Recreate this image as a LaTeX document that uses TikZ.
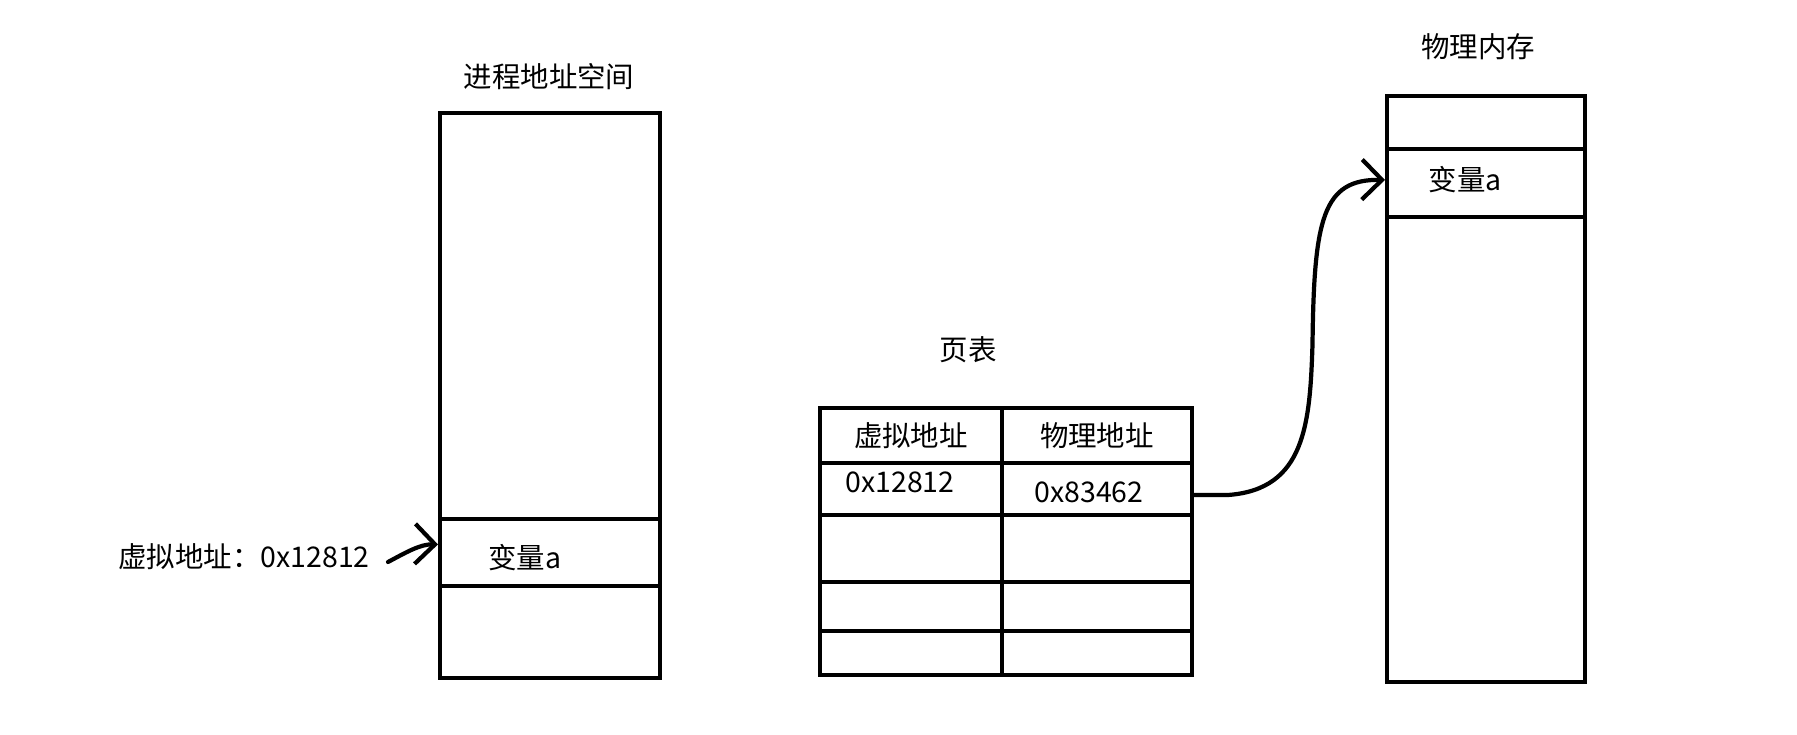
\documentclass[tikz,border=0pt]{standalone}
\usepackage{fontspec}
\setmainfont{Noto Sans CJK SC}
\usetikzlibrary{arrows.meta,positioning}
\tikzset{
  rotulo/.style={font=\fontsize{16.2}{19}\selectfont},
  celda/.style={rotulo,draw,line width=2.2pt,inner sep=0pt,anchor=north west},
  flecha/.style={line width=2.4pt,line cap=round,line join=round,
    -{Straight Barb[length=4mm,width=8mm,line width=2.4pt]}}
}

\begin{document}
\begin{tikzpicture}
\useasboundingbox (0,0) rectangle (35.94,14.68);
% espacio de direcciones del proceso
\node[rotulo] (tproc) at (10.98,13.14) {进程地址空间};
\node[celda,minimum width=4.4cm,minimum height=8.12cm] (proc1) at (8.76,12.46) {};
\node[celda,minimum width=4.4cm,minimum height=1.34cm] (varproc) at (8.76,4.34) {};
\node[celda,minimum width=4.4cm,minimum height=1.84cm] (proc3) at (8.76,3.00) {};
\node[rotulo] at (10.5,3.52) {变量a};
\node[rotulo] (etiq) at (4.88,3.54) {虚拟地址：0x12812};
\coordinate (inicio) at (7.76,3.44);
\draw[flecha] (inicio) .. controls (8.1,3.62) and (8.4,3.8) .. ([yshift=1.6mm]varproc.west);
% tabla de paginas
\node[rotulo] (ttabla) at (19.36,7.68) {页表};
\node[celda,minimum width=3.64cm,minimum height=1.1cm] (t1a) at (16.36,6.56) {虚拟地址};
\node[celda,minimum width=3.8cm,minimum height=1.1cm] (t1b) at (20.0,6.56) {物理地址};
\node[celda,minimum width=3.64cm,minimum height=1.04cm] (t2a) at (16.36,5.46) {};
\node[celda,minimum width=3.8cm,minimum height=1.04cm] (t2b) at (20.0,5.46) {};
\node[celda,minimum width=3.64cm,minimum height=1.34cm] (t3a) at (16.36,4.42) {};
\node[celda,minimum width=3.8cm,minimum height=1.34cm] (t3b) at (20.0,4.42) {};
\node[celda,minimum width=3.64cm,minimum height=0.98cm] (t4a) at (16.36,3.08) {};
\node[celda,minimum width=3.8cm,minimum height=0.98cm] (t4b) at (20.0,3.08) {};
\node[celda,minimum width=3.64cm,minimum height=0.88cm] (t5a) at (16.36,2.10) {};
\node[celda,minimum width=3.8cm,minimum height=0.88cm] (t5b) at (20.0,2.10) {};
\node[rotulo] at (18.0,5.04) {0x12812};
\node[rotulo] at (21.78,4.84) {0x83462};
% memoria fisica
\node[rotulo] (tmem) at (29.56,13.74) {物理内存};
\node[celda,minimum width=3.96cm,minimum height=1.06cm] (mem1) at (27.7,12.8) {};
\node[celda,minimum width=3.96cm,minimum height=1.36cm] (memvar) at (27.7,11.74) {};
\node[celda,minimum width=3.96cm,minimum height=9.3cm] (mem3) at (27.7,10.38) {};
\node[rotulo] at (29.3,11.08) {变量a};
\draw[flecha] ([yshift=-1.2mm]t2b.east) -- ++(0.7,0)
  .. controls (26.1,4.9) and (26.2,6.2) .. (26.25,7.8)
  .. controls (26.28,10.3) and (26.45,11.1) .. ([yshift=0.6mm]memvar.west);
\end{tikzpicture}
\end{document}
